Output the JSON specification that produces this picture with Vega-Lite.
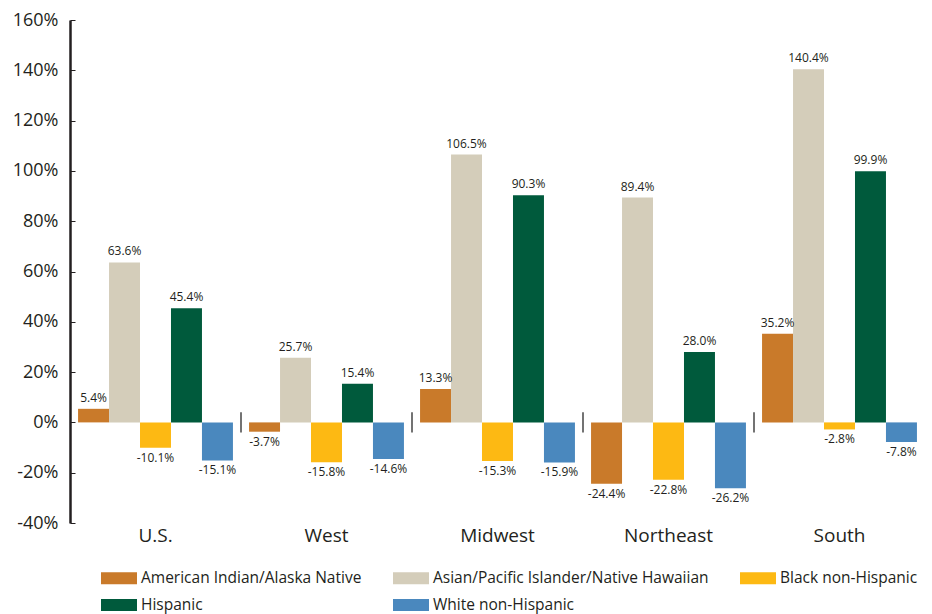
{
  "$schema": "https://vega.github.io/schema/vega-lite/v6.json",
  "autosize": {"type": "none"},
  "width": 855,
  "height": 503,
  "padding": {"left": 70, "top": 20, "right": 7, "bottom": 91},
  "background": "white",
  "config": {
    "view": {"stroke": null},
    "font": "Open Sans",
    "locale": {"number": {"decimal": ".", "thousands": ",", "grouping": [3], "currency": ["$", ""], "minus": "-"}},
    "axis": {"labelFont": "Open Sans", "labelColor": "#231f20"}
  },
  "datasets": {
    "bars": [
      {"region": "U.S.", "group": "American Indian/Alaska Native", "value": 0.054},
      {"region": "U.S.", "group": "Asian/Pacific Islander/Native Hawaiian", "value": 0.636},
      {"region": "U.S.", "group": "Black non-Hispanic", "value": -0.101},
      {"region": "U.S.", "group": "Hispanic", "value": 0.454},
      {"region": "U.S.", "group": "White non-Hispanic", "value": -0.151},
      {"region": "West", "group": "American Indian/Alaska Native", "value": -0.037},
      {"region": "West", "group": "Asian/Pacific Islander/Native Hawaiian", "value": 0.257},
      {"region": "West", "group": "Black non-Hispanic", "value": -0.158},
      {"region": "West", "group": "Hispanic", "value": 0.154},
      {"region": "West", "group": "White non-Hispanic", "value": -0.146},
      {"region": "Midwest", "group": "American Indian/Alaska Native", "value": 0.133},
      {"region": "Midwest", "group": "Asian/Pacific Islander/Native Hawaiian", "value": 1.065},
      {"region": "Midwest", "group": "Black non-Hispanic", "value": -0.153},
      {"region": "Midwest", "group": "Hispanic", "value": 0.903},
      {"region": "Midwest", "group": "White non-Hispanic", "value": -0.159},
      {"region": "Northeast", "group": "American Indian/Alaska Native", "value": -0.244},
      {"region": "Northeast", "group": "Asian/Pacific Islander/Native Hawaiian", "value": 0.894},
      {"region": "Northeast", "group": "Black non-Hispanic", "value": -0.228},
      {"region": "Northeast", "group": "Hispanic", "value": 0.28},
      {"region": "Northeast", "group": "White non-Hispanic", "value": -0.262},
      {"region": "South", "group": "American Indian/Alaska Native", "value": 0.352},
      {"region": "South", "group": "Asian/Pacific Islander/Native Hawaiian", "value": 1.404},
      {"region": "South", "group": "Black non-Hispanic", "value": -0.028},
      {"region": "South", "group": "Hispanic", "value": 0.999},
      {"region": "South", "group": "White non-Hispanic", "value": -0.078}
    ],
    "seps": [
      {"region": "West"}, {"region": "Midwest"}, {"region": "Northeast"}, {"region": "South"}
    ]
  },
  "data": {"name": "bars"},
  "encoding": {
    "x": {
      "field": "region", "type": "nominal",
      "sort": ["U.S.", "West", "Midwest", "Northeast", "South"],
      "scale": {"paddingInner": 0, "paddingOuter": 0},
      "axis": {"title": null, "domain": false, "ticks": false, "labelAngle": 0, "labelFontSize": 19, "labelPadding": 3}
    }
  },
  "layer": [
    {
      "mark": {"type": "bar"},
      "encoding": {
        "xOffset": {"field": "group", "type": "nominal", "scale": {"paddingInner": 0, "paddingOuter": 0.26}},
        "y": {
          "field": "value", "type": "quantitative",
          "scale": {"domain": [-0.4, 1.6], "nice": false},
          "axis": {
            "title": null, "format": ".0%", "values": [-0.4, -0.2, 0, 0.2, 0.4, 0.6, 0.8, 1.0, 1.2, 1.4, 1.6],
            "grid": false, "domainColor": "#231f20", "domainWidth": 2.5, "tickColor": "#231f20", "tickSize": -5, "tickWidth": 1,
            "labelFontSize": 18, "labelPadding": 17
          }
        },
        "color": {
          "field": "group", "type": "nominal",
          "scale": {
            "domain": ["American Indian/Alaska Native", "Asian/Pacific Islander/Native Hawaiian", "Black non-Hispanic", "Hispanic", "White non-Hispanic"],
            "range": ["#C97A2A", "#D4CDBA", "#FDB913", "#005A3C", "#4A88BE"]
          },
          "legend": {
            "title": null, "orient": "none", "legendX": 31, "legendY": 540, "direction": "horizontal", "columns": 3,
            "symbolType": "M-1,-0.333H1V0.333H-1Z", "symbolSize": 1296, "symbolStrokeWidth": 0,
            "labelFont": "Open Sans", "labelFontSize": 15.5, "labelColor": "#231f20", "labelOffset": 4, "columnPadding": 31, "rowPadding": 0,
            "labelLimit": 400, "padding": 0
          }
        }
      }
    },
    {
      "transform": [{"filter": "datum.value >= 0"}],
      "mark": {"type": "text", "baseline": "bottom", "dy": -4, "fontSize": 12, "color": "#231f20"},
      "encoding": {
        "xOffset": {"field": "group", "type": "nominal"},
        "y": {"field": "value", "type": "quantitative"},
        "text": {"field": "value", "type": "quantitative", "format": ".1%"}
      }
    },
    {
      "transform": [{"filter": "datum.value < 0"}],
      "mark": {"type": "text", "baseline": "top", "dy": 5, "fontSize": 12, "color": "#231f20"},
      "encoding": {
        "xOffset": {"field": "group", "type": "nominal"},
        "y": {"field": "value", "type": "quantitative"},
        "text": {"field": "value", "type": "quantitative", "format": ".1%"}
      }
    },
    {
      "mark": {"type": "rule", "color": "#231f20", "strokeWidth": 2.5},
      "encoding": {"y": {"datum": 0}}
    },
    {
      "data": {"name": "seps"},
      "mark": {"type": "rule", "color": "#444444", "strokeWidth": 1.5},
      "encoding": {
        "x": {"field": "region", "type": "nominal", "bandPosition": 0},
        "y": {"datum": -0.04},
        "y2": {"datum": 0.04}
      }
    }
  ]
}
